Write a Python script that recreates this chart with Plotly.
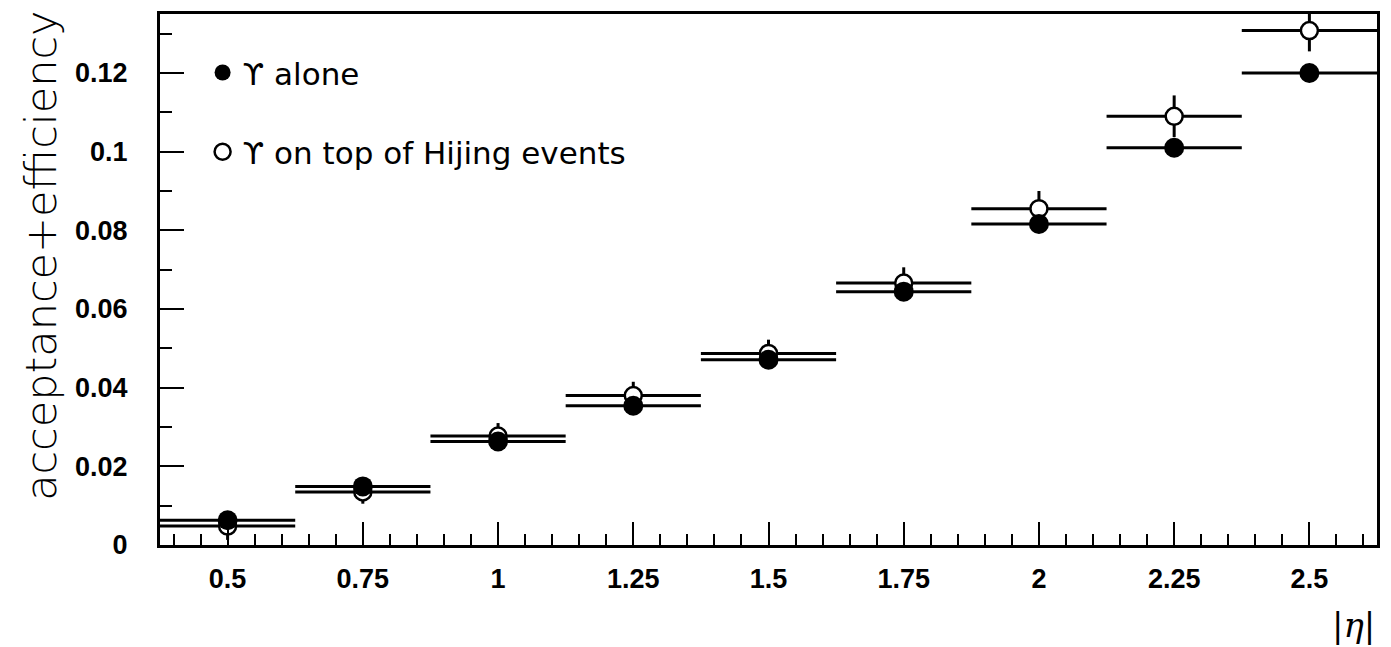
import plotly.graph_objects as go

# Data
eta = [0.5, 0.75, 1.0, 1.25, 1.5, 1.75, 2.0, 2.25, 2.5]
bin_half_width = [0.125] * 9
alone = [0.0063, 0.0149, 0.0263, 0.0354, 0.0471, 0.0644, 0.0816, 0.1010, 0.1200]
alone_err = [0.0010, 0.0014, 0.0016, 0.0018, 0.0019, 0.0020, 0.0021, 0.0022, 0.0022]
hijing = [0.0048, 0.0135, 0.0277, 0.0380, 0.0487, 0.0666, 0.0855, 0.1090, 0.1308]
hijing_err = [0.0035, 0.0030, 0.0033, 0.0035, 0.0035, 0.0040, 0.0045, 0.0053, 0.0053]

x_ticks = [0.5, 0.75, 1, 1.25, 1.5, 1.75, 2, 2.25, 2.5]
x_ticktext = ["0.5", "0.75", "1", "1.25", "1.5", "1.75", "2", "2.25", "2.5"]
y_ticks = [0, 0.02, 0.04, 0.06, 0.08, 0.1, 0.12]
y_ticktext = ["0", "0.02", "0.04", "0.06", "0.08", "0.1", "0.12"]

fig = go.Figure()

fig.add_trace(go.Scatter(
    x=eta, y=hijing, mode="markers",
    name="ϒ on top of Hijing events", legendgroup="b", legendrank=2,
    marker=dict(symbol="circle", size=17, color="white",
                line=dict(color="black", width=2.5)),
    error_x=dict(type="data", array=bin_half_width, color="black", thickness=3, width=0),
    error_y=dict(type="data", array=hijing_err, color="black", thickness=3, width=0),
))
fig.add_trace(go.Scatter(
    x=eta, y=alone, mode="markers",
    name="ϒ alone", legendgroup="a", legendrank=1,
    marker=dict(symbol="circle", size=20, color="black",
                line=dict(color="black", width=0)),
    error_x=dict(type="data", array=bin_half_width, color="black", thickness=3, width=0),
    error_y=dict(type="data", array=alone_err, color="black", thickness=3, width=0),
))

tickfont = dict(family="Liberation Sans, Arial, sans-serif", size=27, color="black", weight="bold")

fig.update_layout(
    width=1391, height=647,
    margin=dict(l=160, r=11, t=12, b=102),
    paper_bgcolor="white", plot_bgcolor="white",
    showlegend=True,
    legend=dict(
        x=0.035, y=0.94, xanchor="left", yanchor="top",
        traceorder="grouped", tracegroupgap=36,
        font=dict(family="DejaVu Sans, sans-serif", size=31, color="black"),
        bgcolor="rgba(0,0,0,0)", borderwidth=0,
    ),
    xaxis=dict(
        range=[0.375, 2.625],
        tickmode="array", tickvals=x_ticks, ticktext=x_ticktext,
        ticks="inside", ticklen=23, tickwidth=2, tickcolor="black",
        minor=dict(dtick=0.05, tick0=0.5, ticks="inside", ticklen=11,
                   tickwidth=2, tickcolor="black"),
        showline=True, linecolor="black", linewidth=3, mirror=True,
        showgrid=False, zeroline=False,
        tickfont=tickfont, ticklabelstandoff=8,
    ),
    yaxis=dict(
        range=[0, 0.135],
        tickmode="array", tickvals=y_ticks, ticktext=y_ticktext,
        ticks="inside", ticklen=24, tickwidth=2, tickcolor="black",
        minor=dict(dtick=0.01, tick0=0, ticks="inside", ticklen=12,
                   tickwidth=2, tickcolor="black"),
        showline=True, linecolor="black", linewidth=3, mirror=True,
        showgrid=False, zeroline=False,
        tickfont=tickfont, ticklabelstandoff=24,
    ),
    annotations=[
        dict(text="acceptance+efficiency", textangle=-90,
             xref="paper", yref="paper", x=-0.098, y=0.544,
             xanchor="center", yanchor="middle", showarrow=False,
             font=dict(family="DejaVu Sans, sans-serif", size=43, color="black", weight=200)),
        dict(text="|<i>η</i>|",
             xref="paper", yref="paper", x=1.0, y=-0.15,
             xanchor="right", yanchor="middle", showarrow=False,
             font=dict(family="DejaVu Serif, serif", size=34, color="black")),
    ],
)

fig.write_html("out.html")
